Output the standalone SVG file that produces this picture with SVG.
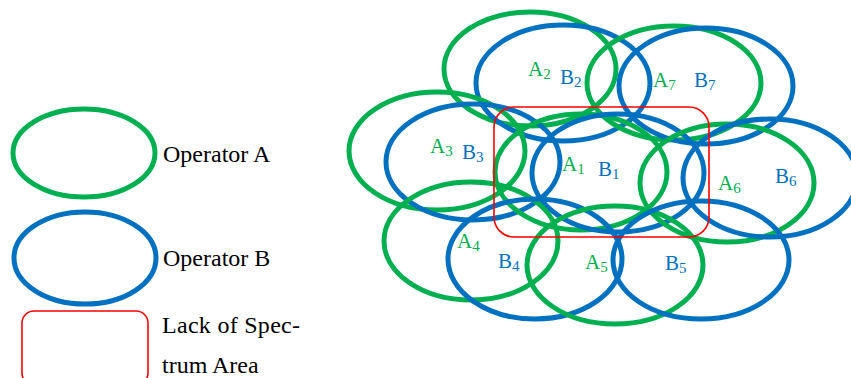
<svg xmlns="http://www.w3.org/2000/svg" width="851" height="378" viewBox="0 0 851 378">
<style>
.ga{fill:none;stroke:#00B050;stroke-width:5}
.bb{fill:none;stroke:#0070C0;stroke-width:5}
.rr{fill:none;stroke:#FF0000;stroke-width:1.6}
.lg{font-family:"Liberation Serif","Times New Roman",serif;font-size:24px;fill:#000}
.la{font-family:"Liberation Serif","Times New Roman",serif;font-size:21px;fill:#00B050}
.lb{font-family:"Liberation Serif","Times New Roman",serif;font-size:21px;fill:#0070C0}
.s{font-size:15px}
</style>
<rect width="851" height="378" fill="#fff"/>
<g id="legend">
  <g id="legend-a"><ellipse class="ga" cx="84" cy="153" rx="71" ry="44"/><text class="lg" x="163" y="162">Operator A</text></g>
  <g id="legend-b"><ellipse class="bb" cx="85" cy="258" rx="71" ry="46"/><text class="lg" x="163" y="266">Operator B</text></g>
  <g id="legend-r"><rect class="rr" x="22" y="311" width="126" height="74" rx="12"/>
    <text class="lg" x="162" y="333" textLength="138" lengthAdjust="spacing">Lack of Spec-</text>
    <text class="lg" x="162" y="373">trum Area</text></g>
</g>
<g id="cells">
  <g id="A2"><ellipse class="ga" cx="530" cy="69" rx="86" ry="57"/><text class="la" x="528" y="76">A<tspan class="s" dy="3">2</tspan></text></g>
  <g id="B2"><ellipse class="bb" cx="563" cy="83" rx="87" ry="58"/><text class="lb" x="560" y="84">B<tspan class="s" dy="3">2</tspan></text></g>
  <g id="A7"><ellipse class="ga" cx="674" cy="83" rx="87" ry="57"/><text class="la" x="653" y="87">A<tspan class="s" dy="3">7</tspan></text></g>
  <g id="B7"><ellipse class="bb" cx="706" cy="86" rx="87" ry="58"/><text class="lb" x="694" y="87">B<tspan class="s" dy="3">7</tspan></text></g>
  <g id="A3"><ellipse class="ga" cx="437" cy="151" rx="88" ry="59"/><text class="la" x="430" y="153">A<tspan class="s" dy="3">3</tspan></text></g>
  <g id="B3"><ellipse class="bb" cx="473" cy="162" rx="87" ry="58"/><text class="lb" x="462" y="159">B<tspan class="s" dy="3">3</tspan></text></g>
  <g id="A1"><ellipse class="ga" cx="581" cy="172" rx="86" ry="58"/><text class="la" x="562" y="171">A<tspan class="s" dy="3">1</tspan></text></g>
  <g id="B1"><ellipse class="bb" cx="618" cy="173" rx="86" ry="59"/><text class="lb" x="598" y="176">B<tspan class="s" dy="3">1</tspan></text></g>
  <g id="A6"><ellipse class="ga" cx="727" cy="183" rx="87" ry="59"/><text class="la" x="718" y="190">A<tspan class="s" dy="3">6</tspan></text></g>
  <g id="B6"><ellipse class="bb" cx="770" cy="178" rx="87" ry="59"/><text class="lb" x="775" y="183">B<tspan class="s" dy="3">6</tspan></text></g>
  <g id="A4"><ellipse class="ga" cx="471" cy="241" rx="87" ry="59"/><text class="la" x="457" y="248">A<tspan class="s" dy="3">4</tspan></text></g>
  <g id="B4"><ellipse class="bb" cx="535" cy="259" rx="87" ry="60"/><text class="lb" x="498" y="268">B<tspan class="s" dy="3">4</tspan></text></g>
  <g id="A5"><ellipse class="ga" cx="615" cy="265" rx="88" ry="59"/><text class="la" x="585" y="269">A<tspan class="s" dy="3">5</tspan></text></g>
  <g id="B5"><ellipse class="bb" cx="701" cy="260" rx="88" ry="59"/><text class="lb" x="665" y="270">B<tspan class="s" dy="3">5</tspan></text></g>
</g>
<g id="lack-area"><rect class="rr" x="494" y="107" width="215" height="130" rx="20"/></g>
</svg>
